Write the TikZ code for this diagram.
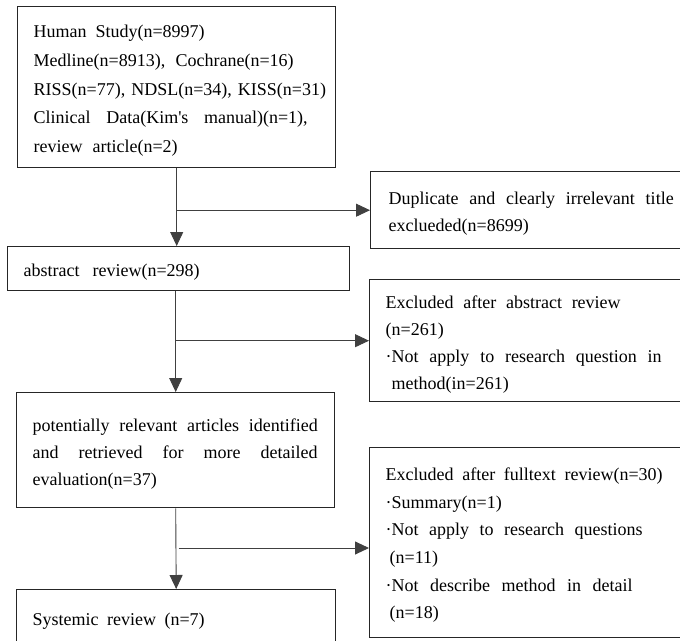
\documentclass[tikz,border=0pt]{standalone}
\usepackage{fontspec}
\setmainfont{Liberation Serif}
\usetikzlibrary{arrows.meta}
\newcommand{\fillline}[2]{\leavevmode{\spaceskip=0.25em plus 1fil\relax\hbox to #1{#2}}}
\newcommand{\topstrut}{\leavevmode\rule{0pt}{20pt}}
\newcommand{\smallstrut}{\leavevmode\rule{0pt}{18pt}}
\begin{document}
\begin{tikzpicture}[x=1pt,y=-1pt,
  box/.style={draw=black!85, line width=1.4pt, rectangle, anchor=north west,
    inner xsep=16pt, inner ysep=0pt, align=left,
    font=\fontsize{18}{27}\selectfont},
  conn/.style={draw=black!75, line width=0.9pt},
  arr/.style={conn, -{Triangle[length=14pt,width=13pt]}}
]
\useasboundingbox (0,0) rectangle (680,640);

\node[box, text width=286pt, minimum height=161pt,
  font=\fontsize{18}{28.7}\selectfont] (A) at (17,6)
  {\topstrut\fillline{171pt}{Human Study(n=8997)}\\
   \fillline{260pt}{Medline(n=8913), Cochrane(n=16)}\\
   \mbox{RISS(n=77), NDSL(n=34), KISS(n=31)}\\
   \fillline{274pt}{Clinical Data(Kim\textquotesingle s manual)(n=1),}\\
   \fillline{144pt}{review article(n=2)}};

\node[box, inner xsep=18pt, text width=300pt, minimum height=77pt] (B) at (370,171)
  {\topstrut\fillline{285pt}{Duplicate and clearly irrelevant title}\\
   exclueded(n=8699)};

\node[box, text width=310pt, minimum height=44pt] (C) at (7,246)
  {\topstrut\fillline{176pt}{abstract review(n=298)}};

\node[box, text width=300pt, minimum height=122pt] (D) at (369,279)
  {\topstrut\fillline{235pt}{Excluded after abstract review}\\
   (n=261)\\
   \fillline{276pt}{·Not apply to research question in}\\
   \hspace*{6pt}method(in=261)};

\node[box, text width=286pt, minimum height=115pt] (E) at (16,392)
  {\topstrut\fillline{285pt}{potentially relevant articles identified}\\
   \fillline{285pt}{and retrieved for more detailed}\\
   evaluation(n=37)};

\node[box, text width=300pt, minimum height=190pt,
  font=\fontsize{18}{27.6}\selectfont] (F) at (369,447)
  {\smallstrut\fillline{277pt}{Excluded after fulltext review(n=30)}\\
   ·Summary(n=1)\\
   \fillline{257pt}{·Not apply to research questions}\\
   \hspace*{4pt}(n=11)\\
   \fillline{247pt}{·Not describe method in detail}\\
   \hspace*{4pt}(n=18)};

\node[box, text width=287pt, minimum height=56pt] (G) at (16,589)
  {\topstrut\fillline{172pt}{Systemic review (n=7)}};

% connectors
\draw[arr] (A.south) -- (A.south |- C.north);
\coordinate (j1) at (A.south |- B.west);
\draw[arr] (j1) -- (B.west);

\draw[arr] (E.north |- C.south) -- (E.north);
\coordinate (j2) at (E.north |- D.west);
\draw[arr] (j2) -- (D.west);

\draw[arr] (E.south) -- (G.north);
\coordinate (j3) at ([xshift=3pt]E.south |- 0,548);
\draw[arr] (j3) -- (j3 -| F.west);
\end{tikzpicture}
\end{document}
